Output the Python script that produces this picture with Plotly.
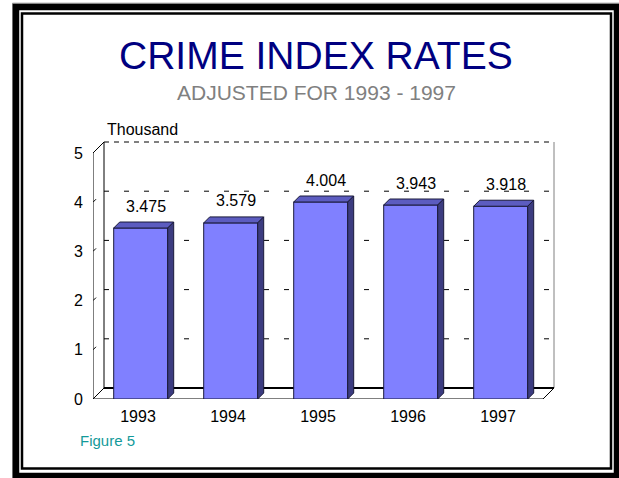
import plotly.graph_objects as go

# ---- data ----
years = ["1993", "1994", "1995", "1996", "1997"]
values = [3.475, 3.579, 4.004, 3.943, 3.918]
y_ticks = [0, 1, 2, 3, 4, 5]
title_text = "CRIME INDEX RATES"
subtitle_text = "ADJUSTED FOR 1993 - 1997"
unit_text = "Thousand"
figure_text = "Figure 5"

# ---- geometry / style ----
W, H = 619, 478
L, T, R, B = 93, 135, 59, 79
PW, PH = W - L - R, H - T - B
XPX, YPX = 90.0, 49.2           # px per category / per unit
XR = [-0.5, -0.5 + PW / XPX]
YR = [0, PH / YPX]
FONT = "Arial, Liberation Sans, sans-serif"

BAR_OFF, BAR_W = -0.27, 0.6
dX, dY = 6 / XPX, 6 / YPX          # bar depth
WX, WY = 11 / XPX, 11 / YPX        # wall depth

def px(x):
    return (x - L) / PW

def py(y):
    return (T + PH - y) / PH

xs = list(range(len(years)))

fig = go.Figure()
fig.add_trace(go.Bar(
    x=xs, y=values, offset=BAR_OFF, width=BAR_W,
    marker=dict(color="#8080ff", line=dict(color="#1a1a3a", width=1)),
    hoverinfo="skip", showlegend=False))

# 3D top and side faces derived from values
tx, ty, sx, sy = [], [], [], []
for i, v in zip(xs, values):
    xl, xr = i + BAR_OFF, i + BAR_OFF + BAR_W
    tx += [xl, xr, xr + dX, xl + dX, xl, None]
    ty += [v, v, v + dY, v + dY, v, None]
    sx += [xr, xr, xr + dX, xr + dX, xr, None]
    sy += [0, v, v + dY, dY, 0, None]
fig.add_trace(go.Scatter(x=tx, y=ty, mode="lines", fill="toself", fillcolor="#5c5cc0",
                         line=dict(color="#1a1a3a", width=1), hoverinfo="skip", showlegend=False))
fig.add_trace(go.Scatter(x=sx, y=sy, mode="lines", fill="toself", fillcolor="#3c3c80",
                         line=dict(color="#1a1a3a", width=1), hoverinfo="skip", showlegend=False))

shapes = []
x0, x1 = -0.5, len(years) - 0.5
# back wall gridlines (dashed)
for v in y_ticks[1:]:
    dash = "5px,5px" if v == y_ticks[-1] else "5px,15px"
    shapes.append(dict(type="line", xref="x", yref="y", x0=x0 + WX, x1=x1 + WX, y0=v + WY, y1=v + WY,
                       line=dict(color="black", width=1, dash=dash), layer="below"))
# back wall edges
shapes.append(dict(type="line", xref="x", yref="y", x0=x0 + WX, x1=x0 + WX, y0=WY, y1=y_ticks[-1] + WY,
                   line=dict(color="black", width=1), layer="below"))
shapes.append(dict(type="line", xref="x", yref="y", x0=x1 + WX, x1=x1 + WX, y0=WY, y1=y_ticks[-1] + WY,
                   line=dict(color="#808080", width=1), layer="below"))
# floor
shapes.append(dict(type="line", xref="x", yref="y", x0=x0 + WX, x1=x1 + WX, y0=WY, y1=WY,
                   line=dict(color="black", width=2), layer="below"))
shapes.append(dict(type="line", xref="x", yref="y", x0=x0, x1=x1, y0=0, y1=0,
                   line=dict(color="black", width=1), layer="below"))
shapes.append(dict(type="line", xref="x", yref="y", x0=x0, x1=x0 + WX, y0=0, y1=WY,
                   line=dict(color="black", width=1), layer="below"))
shapes.append(dict(type="line", xref="x", yref="y", x0=x1, x1=x1 + WX, y0=0, y1=WY,
                   line=dict(color="black", width=1), layer="below"))
# front axis + side wall top edge
shapes.append(dict(type="line", xref="x", yref="y", x0=x0, x1=x0, y0=0, y1=y_ticks[-1],
                   line=dict(color="black", width=1), layer="below"))
shapes.append(dict(type="line", xref="x", yref="y", x0=x0, x1=x0 + WX, y0=y_ticks[-1], y1=y_ticks[-1] + WY,
                   line=dict(color="black", width=1), layer="below"))
for v in y_ticks[1:-1]:
    shapes.append(dict(type="line", xref="x", yref="y", x0=x0, x1=x0 + 3 / XPX, y0=v, y1=v + 3 / YPX,
                       line=dict(color="black", width=1), layer="below"))

# frame
shapes.append(dict(type="rect", xref="paper", yref="paper", x0=px(12.5), x1=px(622), y0=py(3.2), y1=py(482),
                   line=dict(color="#909090", width=1)))
shapes.append(dict(type="rect", xref="paper", yref="paper", x0=px(16), x1=px(617), y0=py(7), y1=py(476),
                   line=dict(color="black", width=6.5)))
shapes.append(dict(type="rect", xref="paper", yref="paper", x0=px(22), x1=px(611), y0=py(13.5), y1=py(468.5),
                   line=dict(color="black", width=2.5)))

annotations = []
for i, v in zip(xs, values):
    annotations.append(dict(x=i, y=v, xref="x", yref="y", text=f"{v:.3f}", showarrow=False,
                            xanchor="center", yanchor="middle", xshift=8, yshift=22,
                            font=dict(family=FONT, size=16, color="black")))
annotations += [
    dict(x=px(316), y=py(56), xref="paper", yref="paper", text=title_text, showarrow=False,
         xanchor="center", yanchor="middle", font=dict(family=FONT, size=39, color="#000080")),
    dict(x=px(316), y=py(93), xref="paper", yref="paper", text=subtitle_text, showarrow=False,
         xanchor="center", yanchor="middle", font=dict(family=FONT, size=21, color="#808080")),
    dict(x=px(105), y=py(129), xref="paper", yref="paper", text=unit_text, showarrow=False,
         xanchor="left", yanchor="middle", font=dict(family=FONT, size=16, color="black")),
    dict(x=px(78), y=py(440), xref="paper", yref="paper", text=figure_text, showarrow=False,
         xanchor="left", yanchor="middle", font=dict(family=FONT, size=15, color="#139a9a")),
]

fig.update_layout(
    width=W, height=H, margin=dict(l=L, r=R, t=T, b=B),
    paper_bgcolor="white", plot_bgcolor="white",
    shapes=shapes, annotations=annotations, showlegend=False,
    xaxis=dict(range=XR, tickvals=xs, ticktext=years, showgrid=False, zeroline=False,
               showline=False, ticks="", ticklabelstandoff=6,
               tickfont=dict(family=FONT, size=16, color="black"), fixedrange=True),
    yaxis=dict(range=YR, tickvals=y_ticks, showgrid=False, zeroline=False, showline=False,
               ticks="", ticklabelstandoff=9,
               tickfont=dict(family=FONT, size=16, color="black"), fixedrange=True),
)
fig.write_html("out.html")
